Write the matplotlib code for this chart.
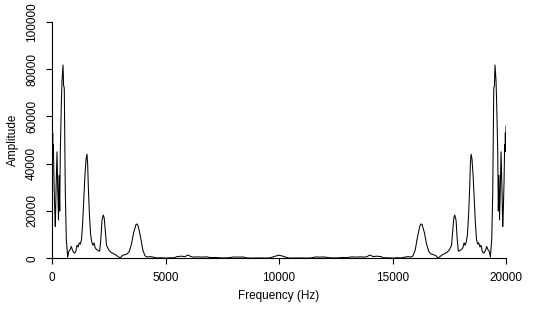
import matplotlib.pyplot as plt

# Amplitude spectrum, left half (0 - 10000 Hz)
freqLeft = [0, 15, 30, 45, 60, 88, 120, 145, 180, 220, 250, 286, 310, 340,
            365, 410, 440, 485, 510, 540, 585, 630, 690, 740, 790, 850, 900,
            950, 1000, 1050, 1100, 1150, 1200, 1250, 1300, 1350, 1400, 1450,
            1500, 1540, 1570, 1600, 1650, 1700, 1750, 1800, 1850, 1900, 1950,
            2000, 2050, 2100, 2150, 2200, 2260, 2300, 2350, 2400, 2450, 2500,
            2600, 2700, 2800, 2900, 3000, 3100, 3200, 3300, 3400, 3500, 3600,
            3700, 3750, 3800, 3900, 4000, 4100, 4200, 4300, 4400, 4500, 4600,
            4700, 4800, 4900, 5000, 5200, 5400, 5500, 5700, 5850, 6000, 6100,
            6200, 6400, 6600, 6800, 7000, 7200, 7400, 7600, 7800, 8000, 8200,
            8400, 8600, 8800, 9000, 9200, 9400, 9600, 9800, 10000]
ampLeft = [56000, 48000, 53000, 45000, 48000, 32000, 20000, 13400, 30000,
           45000, 30000, 16200, 35000, 20000, 45000, 64800, 75000, 81700,
           73000, 72000, 28000, 8000, 500, 3000, 3500, 5000, 3500, 2500, 2200,
           3000, 5500, 4800, 6500, 6000, 8000, 15000, 25000, 35000, 42000,
           44000, 40000, 30000, 18000, 10000, 7000, 5500, 6500, 4500, 3800,
           3500, 3200, 3000, 8000, 16000, 18300, 17000, 11000, 5500, 4500,
           3500, 2500, 2000, 1500, 800, 100, 1200, 1500, 1800, 2800, 6000,
           11000, 14300, 14500, 13500, 9000, 3500, 1000, 500, 700, 600, 400,
           200, 150, 250, 150, 100, 200, 250, 700, 900, 700, 1400, 800, 500,
           600, 500, 600, 300, 350, 200, 150, 250, 550, 500, 550, 150, 100,
           150, 150, 100, 150, 800, 1300]

# Amplitude spectrum, right half (10000 - 20000 Hz)
freqRight = [10200, 10400, 10600, 10800, 11000, 11200, 11400, 11600, 11800,
             12000, 12200, 12400, 12600, 12800, 13000, 13200, 13400, 13600,
             13800, 13900, 14000, 14150, 14300, 14500, 14600, 14800, 15000,
             15100, 15200, 15300, 15400, 15500, 15600, 15700, 15800, 15900,
             16000, 16100, 16200, 16250, 16300, 16400, 16500, 16600, 16700,
             16800, 16900, 17000, 17100, 17200, 17300, 17400, 17500, 17550,
             17600, 17650, 17700, 17740, 17800, 17850, 17900, 17950, 18000,
             18050, 18100, 18150, 18200, 18250, 18300, 18350, 18400, 18430,
             18460, 18500, 18550, 18600, 18650, 18700, 18750, 18800, 18850,
             18900, 18950, 19000, 19050, 19100, 19150, 19210, 19260, 19310,
             19370, 19415, 19460, 19490, 19515, 19560, 19590, 19635, 19660,
             19690, 19714, 19750, 19780, 19820, 19855, 19880, 19912, 19940,
             19955, 19970, 19985, 20000]
ampRight = [800, 150, 100, 150, 150, 100, 150, 550, 500, 550, 250, 150, 200,
            350, 300, 600, 500, 600, 500, 800, 1400, 700, 900, 700, 250, 200,
            100, 150, 250, 150, 200, 400, 600, 700, 500, 1000, 3500, 9000,
            13500, 14500, 14300, 11000, 6000, 2800, 1800, 1500, 1200, 100,
            800, 1500, 2000, 2500, 3500, 4500, 5500, 11000, 17000, 18300,
            16000, 8000, 3000, 3200, 3500, 3800, 4500, 6500, 5500, 7000, 10000,
            18000, 30000, 40000, 44000, 42000, 35000, 25000, 15000, 8000, 6000,
            6500, 4800, 5500, 3000, 2200, 2500, 3500, 5000, 3500, 3000, 500,
            8000, 28000, 72000, 73000, 81700, 75000, 64800, 45000, 20000,
            35000, 16200, 30000, 45000, 30000, 13400, 20000, 32000, 48000,
            45000, 53000, 48000, 56000]

freq = freqLeft + freqRight
amp = ampLeft + ampRight

plt.rcParams['font.family'] = ['Liberation Sans', 'DejaVu Sans']
fig = plt.figure(figsize=(5.43, 3.10), dpi=100)
ax = fig.add_axes([0.0958, 0.1668, 0.8361, 0.7632])

# Thin 1px trace
ax.plot(freq, amp, color='black', linewidth=0.75)

ax.set_xlim(0, 20000)
ax.set_ylim(0, 100000)
ax.set_xticks([0, 5000, 10000, 15000, 20000])
ax.set_yticks([0, 20000, 40000, 60000, 80000, 100000])
ax.spines['top'].set_visible(False)
ax.spines['right'].set_visible(False)
ax.tick_params(direction='out', length=4.5, width=0.8, pad=5.5,
               labelsize=8.5)
for lbl in ax.get_yticklabels():
    lbl.set_rotation(90)
    lbl.set_va('center')

ax.set_xlabel("Frequency (Hz)", fontsize=8.5, labelpad=4)
ax.set_ylabel("Amplitude", fontsize=8.5, labelpad=5)

fig.savefig("out.png", dpi=100)
